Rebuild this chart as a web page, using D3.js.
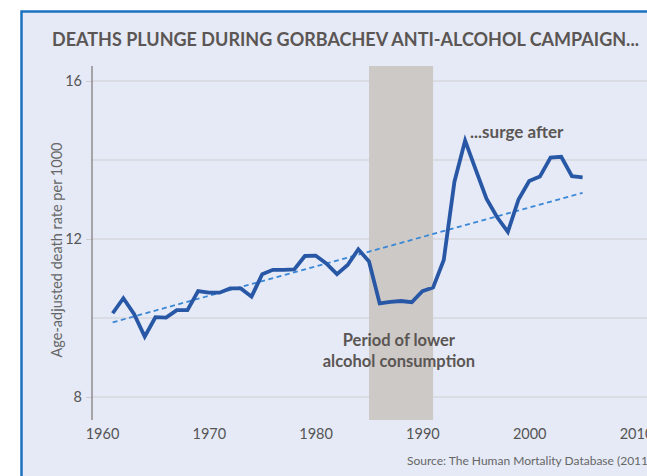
<!DOCTYPE html>
<html>
<head>
<meta charset="utf-8">
<script src="https://cdn.jsdelivr.net/npm/d3@7"></script>
<style>
html,body{margin:0;padding:0;background:#fff;overflow:hidden;}
svg{display:block;}
text{font-family:Lato,"Open Sans",sans-serif;}
</style>
</head>
<body>
<div id="chart"></div>
<script>
const years = d3.range(1961, 2006);
const deathRates = [10.12,10.50,10.10,9.53,10.02,10.01,10.20,10.20,10.68,10.64,
  10.64,10.75,10.75,10.54,11.11,11.22,11.22,11.23,11.57,11.58,
  11.38,11.11,11.34,11.74,11.43,10.37,10.41,10.43,10.40,10.68,
  10.77,11.47,13.45,14.49,13.75,13.02,12.55,12.18,13.00,13.47,
  13.58,14.06,14.08,13.59,13.56];
const trendYears = [1961, 2005];
const trendValues = [9.89, 13.17];
const shadeYears = [1985, 1991];
const xTicks = [1960, 1970, 1980, 1990, 2000, 2010];
const yTicks = [16, 12, 8];
const yGrid = [16, 14, 12, 10, 8];
const title = "DEATHS PLUNGE DURING GORBACHEV ANTI-ALCOHOL CAMPAIGN...";
const yLabel = "Age-adjusted death rate per 1000";
const shadeLabel = ["Period of lower", "alcohol consumption"];
const surgeLabel = "...surge after";
const source = "Source: The Human Mortality Database (2011)";

const W = 647, H = 476;
const svg = d3.select("#chart").append("svg").attr("width", W).attr("height", H);

// panel
svg.append("rect").attr("x", 21.5).attr("y", 11.5).attr("width", W).attr("height", H)
  .attr("fill", "#e5eaf6").attr("stroke", "#1b72bf").attr("stroke-width", 2.5);

const x = d3.scaleLinear().domain([1960, 2010]).range([102, 636]);
const y = d3.scaleLinear().domain([8, 16]).range([397, 81]);
const axisX = 92, plotTop = 66, plotBottom = 420;

// gridlines
svg.append("g").selectAll("line").data(yGrid).join("line")
  .attr("x1", axisX).attr("x2", W).attr("y1", d => y(d)).attr("y2", d => y(d))
  .attr("stroke", "#cfcdd0").attr("stroke-width", 1);

// shaded period
svg.append("rect").attr("x", x(shadeYears[0])).attr("y", plotTop)
  .attr("width", x(shadeYears[1]) - x(shadeYears[0])).attr("height", plotBottom - plotTop)
  .attr("fill", "#cdc9c7");

// y axis
const yAxis = d3.axisLeft(y).tickValues(yTicks).tickSize(6).tickPadding(4);
const gy = svg.append("g").attr("transform", `translate(${axisX},0)`).call(yAxis);
gy.select(".domain").remove();
gy.selectAll(".tick line").attr("stroke", "#cfcdd0");
gy.selectAll(".tick text").attr("fill", "#555").style("font-size", "14.5px").attr("font-family", "Lato,sans-serif");
svg.append("line").attr("x1", axisX).attr("x2", axisX).attr("y1", plotTop).attr("y2", plotBottom)
  .attr("stroke", "#7a7473").attr("stroke-width", 1.2);

// x axis labels
const xAxis = d3.axisBottom(x).tickValues(xTicks).tickFormat(d3.format("d")).tickSize(0).tickPadding(0);
const gx = svg.append("g").attr("transform", `translate(0,${plotBottom + 9})`).call(xAxis);
gx.select(".domain").remove();
gx.selectAll(".tick text").attr("fill", "#555").style("font-size", "14.5px").attr("font-family", "Lato,sans-serif");

// trend line
svg.append("path").datum(trendYears.map((d, i) => [d, trendValues[i]]))
  .attr("d", d3.line().x(d => x(d[0])).y(d => y(d[1])))
  .attr("fill", "none").attr("stroke", "#3a87d6").attr("stroke-width", 1.8)
  .attr("stroke-dasharray", "5,3.5");

// data line
svg.append("path").datum(years.map((d, i) => [d, deathRates[i]]))
  .attr("d", d3.line().x(d => x(d[0])).y(d => y(d[1])))
  .attr("fill", "none").attr("stroke", "#2857a6").attr("stroke-width", 3.8)
  .attr("stroke-linejoin", "miter");

// title
svg.append("text").attr("x", 52).attr("y", 46).text(title)
  .attr("fill", "#5b5654").style("font-size", "18px").style("font-weight", "bold");

// y label
svg.append("text").attr("transform", `translate(62,250) rotate(-90)`)
  .attr("text-anchor", "middle").text(yLabel)
  .attr("fill", "#666").style("font-size", "14.5px");

// annotations
svg.append("text").attr("x", x(1987.8)).attr("y", 346).attr("text-anchor", "middle")
  .selectAll("tspan").data(shadeLabel).join("tspan")
  .attr("x", x(1987.8)).attr("dy", (d, i) => i ? 21 : 0).text(d => d)
  .attr("fill", "#5b5654").style("font-size", "16.5px").style("font-weight", "bold");

svg.append("text").attr("x", 470).attr("y", 138).text(surgeLabel)
  .attr("fill", "#5b5654").style("font-size", "17px").style("font-weight", "bold");

svg.append("text").attr("x", 407).attr("y", 465).text(source)
  .attr("fill", "#666").style("font-size", "12px");
</script>
</body>
</html>
